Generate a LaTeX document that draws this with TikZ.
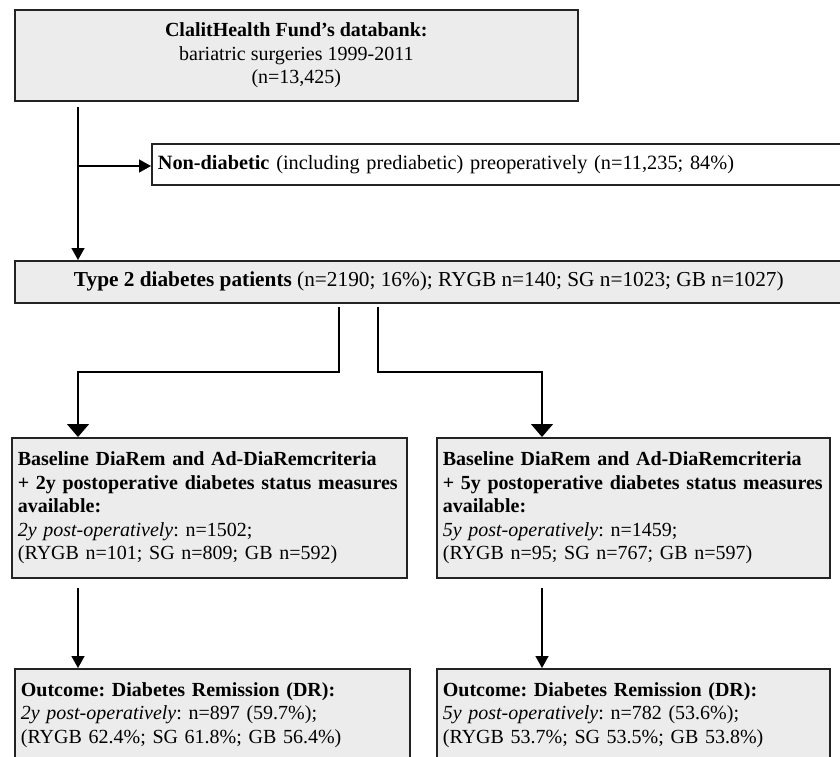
\documentclass[tikz,border=0pt]{standalone}
\usepackage{fontspec}
\setmainfont{Liberation Serif}
\usetikzlibrary{arrows.meta,calc}
\definecolor{boxfill}{RGB}{235,236,235}
\definecolor{boxline}{RGB}{35,35,35}
\newcommand{\fsz}{\fontsize{20}{23.5}\selectfont\frenchspacing}
\begin{document}
\begin{tikzpicture}[x=1pt,y=-1pt,
  box/.style={draw=boxline, line width=1.7pt, fill=boxfill, inner ysep=0pt, inner xsep=6pt, font=\fsz},
  wbox/.style={box, fill=white},
  conn/.style={line width=1.4pt, draw=black},
  tipa/.style={-{Triangle[length=12pt,width=13pt]}},
  tipb/.style={-{Triangle[length=13pt,width=22pt]}}]
\useasboundingbox (0,0) rectangle (840,756);

\node[box, anchor=north west, minimum width=563pt, minimum height=91pt, align=center] (top) at (14,9)
  {\textbf{ClalitHealth Fund's databank:}\\ bariatric surgeries 1999-2011\\ (n=13,425)};

\node[wbox, anchor=north west, minimum height=41pt, text width=690pt, align=left,
  font=\fontsize{20.3}{23.5}\selectfont\frenchspacing] (nd) at (151,143)
  {\textbf{Non-diabetic} (including prediabetic) preoperatively (n=11,235; 84\%)};

\node[box, anchor=north west, minimum width=828pt, minimum height=42pt, align=center,
  font=\fontsize{21.3}{24}\selectfont\frenchspacing] (t2) at (14,260)
  {\textbf{Type 2 diabetes patients} (n=2190; 16\%); RYGB n=140; SG n=1023; GB n=1027)};

\node[box, anchor=north west, minimum height=140pt, text width=383pt, align=left] (y2) at (11,437)
  {\textbf{Baseline DiaRem and Ad-DiaRemcriteria}\\
   \textbf{+ 2y postoperative diabetes status measures}\\
   \textbf{available:}\\
   \textit{2y post-operatively}: n=1502;\\
   (RYGB n=101; SG n=809; GB n=592)};

\node[box, anchor=north west, minimum height=140pt, text width=381pt, align=left] (y5) at (436,437)
  {\textbf{Baseline DiaRem and Ad-DiaRemcriteria}\\
   \textbf{+ 5y postoperative diabetes status measures}\\
   \textbf{available:}\\
   \textit{5y post-operatively}: n=1459;\\
   (RYGB n=95; SG n=767; GB n=597)};

\node[box, anchor=north west, minimum height=92pt, text width=383pt, align=left] (o2) at (14,668)
  {\textbf{Outcome: Diabetes Remission (DR):}\\
   \textit{2y post-operatively}: n=897 (59.7\%);\\
   (RYGB 62.4\%; SG 61.8\%; GB 56.4\%)};

\node[box, anchor=north west, minimum height=92pt, text width=381pt, align=left] (o5) at (436,668)
  {\textbf{Outcome: Diabetes Remission (DR):}\\
   \textit{5y post-operatively}: n=782 (53.6\%);\\
   (RYGB 53.7\%; SG 53.5\%; GB 53.8\%)};

\coordinate (a0) at (78,107);
\coordinate (a1) at (78,166);
\coordinate (b0) at (339,307);
\coordinate (c0) at (378,307);
\coordinate (x5) at (542,0);
\coordinate (d2) at (78,588);
\coordinate (d5) at (542,588);

\draw[conn,tipa] (a0) -- (a0 |- t2.north);
\draw[conn,tipa] (a1) -- (a1 -| nd.west);
\draw[conn,tipb] (b0) -- ++(0,65) -| (a0 |- y2.north);
\draw[conn,tipb] (c0) -- ++(0,65) -| (x5 |- y5.north);
\draw[conn,tipa] (d2) -- (d2 |- o2.north);
\draw[conn,tipa] (d5) -- (d5 |- o5.north);
\end{tikzpicture}
\end{document}
